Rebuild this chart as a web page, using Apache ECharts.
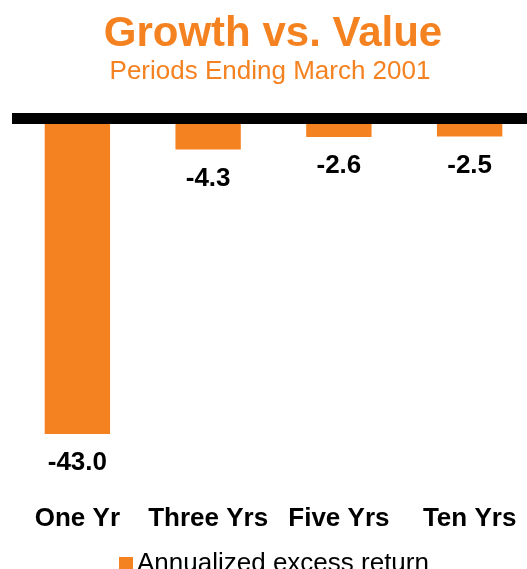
<!DOCTYPE html>
<html>
<head>
<meta charset="utf-8">
<script src="https://cdn.jsdelivr.net/npm/echarts@6/dist/echarts.min.js"></script>
<style>
html,body{margin:0;padding:0;background:#fff;}
#chart{width:527px;height:569px;}
</style>
</head>
<body>
<div id="chart"></div>
<script>
const categories = ['One Yr', 'Three Yrs', 'Five Yrs', 'Ten Yrs'];
const excessReturn = [-43.0, -4.3, -2.6, -2.5];
const seriesName = 'Annualized excess return';

const ORANGE = '#F58220';
const FONT = '"Liberation Sans", Arial, sans-serif';

const chart = echarts.init(document.getElementById('chart'), null, {renderer: 'canvas'});
chart.setOption({
  backgroundColor: '#fff',
  animation: false,
  title: [
    {text: 'Growth vs. Value', left: 268, top: 8, textAlign: 'center',
     textStyle: {color: ORANGE, fontFamily: FONT, fontWeight: 'bold', fontSize: 42, lineHeight: 42}},
    {text: 'Periods Ending March 2001', left: 265, top: 54, textAlign: 'center',
     textStyle: {color: ORANGE, fontFamily: FONT, fontWeight: 'normal', fontSize: 26, lineHeight: 26}}
  ],
  legend: {
    data: [seriesName],
    left: 114, top: 546,
    itemWidth: 14, itemHeight: 14, itemGap: 10,
    icon: 'rect',
    textStyle: {color: '#000', fontFamily: FONT, fontSize: 26, padding: [0,0,0,-1]}
  },
  grid: {left: 12, width: 523, top: 118, height: 367.5, containLabel: false, outerBoundsMode: 'none'},
  xAxis: {
    type: 'category', data: categories,
    axisLine: {show: false}, axisTick: {show: false}, splitLine: {show: false},
    axisLabel: {color: '#000', fontFamily: FONT, fontWeight: 'bold', fontSize: 26, margin: 20, interval: 0}
  },
  yAxis: {type: 'value', min: -50, max: 0, show: false, splitLine: {show: false}},
  series: [{
    name: seriesName, type: 'bar', data: excessReturn,
    barWidth: '50%',
    itemStyle: {color: ORANGE},
    label: {show: true, position: 'bottom', distance: 16, color: '#000', fontFamily: FONT,
            fontWeight: 'bold', fontSize: 26, formatter: p => p.value.toFixed(1)},
    markLine: {
      silent: true, symbol: 'none', label: {show: false},
      lineStyle: {color: '#000', width: 11, type: 'solid'},
      data: [{yAxis: 0}]
    }
  }]
});
</script>
</body>
</html>
